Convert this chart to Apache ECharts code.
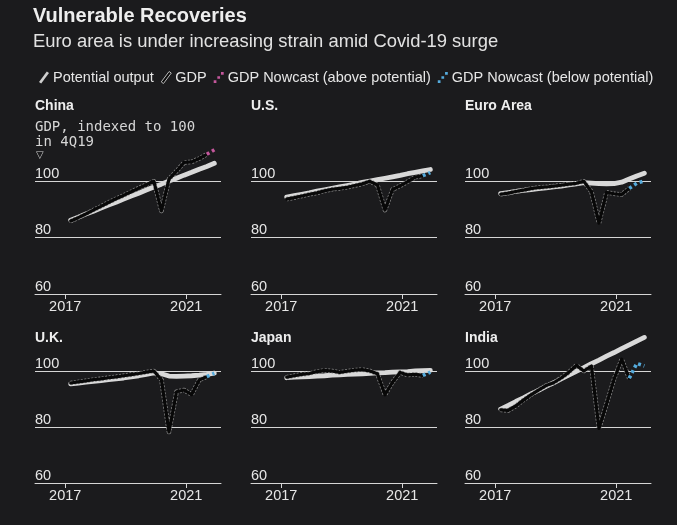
<!DOCTYPE html>
<html><head><meta charset="utf-8">
<script src="https://cdn.jsdelivr.net/npm/echarts@6.0.0/dist/echarts.min.js"></script>
<style>html,body{margin:0;padding:0;background:#1b1b1d}#c{width:677px;height:525px}</style>
</head><body><div id="c"></div><script>
const quarters = ['2017Q1','2017Q2','2017Q3','2017Q4','2018Q1','2018Q2','2018Q3','2018Q4','2019Q1','2019Q2','2019Q3','2019Q4','2020Q1','2020Q2','2020Q3','2020Q4','2021Q1','2021Q2','2021Q3','2021Q4'];
const xTickYears = [2017, 2021];
const yTicks = [60, 80, 100];

const chinaPotential = [86.2,87.3,88.4,89.4,90.5,91.6,92.6,93.7,94.8,95.8,96.9,98.0,99.0,100.1,101.1,102.2,103.2,104.3,105.3,106.4];
const chinaGDP       = [85.9,87.1,88.4,89.8,91.1,92.5,93.8,95.0,96.3,97.6,98.8,100.0,89.5,100.8,103.6,106.7,106.9,108.1,109.6,null];
const chinaNowcast   = [null,null,null,null,null,null,null,null,null,null,null,null,null,null,null,null,null,null,109.6,111.2];

const usPotential = [94.4,94.9,95.4,95.9,96.5,97.0,97.5,98.0,98.5,99.0,99.6,100.1,100.6,101.1,101.6,102.1,102.7,103.2,103.7,104.2];
const usGDP       = [93.7,94.2,94.8,95.4,95.9,96.6,97.2,97.5,97.9,98.5,99.1,100.0,98.7,89.8,97.1,98.4,99.9,101.5,102.0,null];
const usNowcast   = [null,null,null,null,null,null,null,null,null,null,null,null,null,null,null,null,null,null,102.0,103.1];

const euroPotential = [95.6,96.0,96.4,96.8,97.1,97.4,97.7,98.0,98.3,98.7,99.1,99.5,99.4,99.2,99.1,99.2,99.7,100.8,101.9,102.9];
const euroGDP       = [95.4,95.8,96.4,96.9,97.4,97.8,98.0,98.3,98.6,99.0,99.3,100.0,96.3,85.2,96.1,95.6,95.3,97.5,null,null];
const euroNowcast   = [null,null,null,null,null,null,null,null,null,null,null,null,null,null,null,null,null,97.5,99.3,100.2];

const ukPotential = [95.4,95.7,96.0,96.3,96.6,96.9,97.2,97.5,97.9,98.3,98.8,99.3,99.0,98.2,98.1,98.2,98.3,98.5,98.8,99.2];
const ukGDP       = [95.7,96.1,96.5,96.9,97.2,97.6,97.9,98.3,98.7,99.1,99.6,100.0,96.9,78.2,92.6,93.2,91.6,96.8,98.0,null];
const ukNowcast   = [null,null,null,null,null,null,null,null,null,null,null,null,null,null,null,null,null,null,98.0,99.2];

const japanPotential = [97.6,97.8,97.9,98.0,98.2,98.3,98.5,98.6,98.8,98.9,99.0,99.2,99.3,99.4,99.6,99.7,99.8,100.0,100.1,100.2];
const japanGDP       = [97.8,98.3,98.8,99.1,99.8,100.2,100.0,99.5,99.9,100.3,100.5,100.0,99.0,91.5,96.0,99.5,98.6,98.8,98.4,null];
const japanNowcast   = [null,null,null,null,null,null,null,null,null,null,null,null,null,null,null,null,null,null,98.4,99.6];

const indiaPotential = [86.4,87.7,89.1,90.4,91.8,93.1,94.5,95.8,97.2,98.5,99.9,101.2,102.6,103.9,105.3,106.6,108.0,109.3,110.7,112.0];
const indiaGDP       = [86.1,85.9,87.5,89.6,91.5,93.2,94.8,95.8,97.5,99.5,102.0,100.0,101.8,79.5,88.2,97.1,104.2,97.4,null,null];
const indiaNowcast   = [null,null,null,null,null,null,null,null,null,null,null,null,null,null,null,null,null,97.4,102.7,101.8];

const NAME_POT = 'Potential output', NAME_GDP = 'GDP',
      NAME_ABOVE = 'GDP Nowcast (above potential)', NAME_BELOW = 'GDP Nowcast (below potential)';
const panelNames = ['China', 'U.S.', 'Euro Area', 'U.K.', 'Japan', 'India'];

const panels = [
  {pot: chinaPotential, gdp: chinaGDP, now: chinaNowcast, nowName: NAME_ABOVE},
  {pot: usPotential, gdp: usGDP, now: usNowcast, nowName: NAME_BELOW},
  {pot: euroPotential, gdp: euroGDP, now: euroNowcast, nowName: NAME_BELOW},
  {pot: ukPotential, gdp: ukGDP, now: ukNowcast, nowName: NAME_BELOW},
  {pot: japanPotential, gdp: japanGDP, now: japanNowcast, nowName: NAME_BELOW},
  {pot: indiaPotential, gdp: indiaGDP, now: indiaNowcast, nowName: NAME_BELOW}
];

const C_BG = '#1b1b1d', C_TEXT = '#e6e6e6', C_GRID = '#d6d6d6', C_POT = '#d9d9d9',
      C_GDP = '#080808', C_ABOVE = '#c4579c', C_BELOW = '#55abdc';
const FONT = '"Liberation Sans", Arial, sans-serif';
const colLefts = [35, 251, 465], rowTops = [125, 315], rowHeights = [169, 168];

const qx = quarters.map(q => +q.slice(0, 4) + (+q.slice(5) - 1) / 4 + 0.18);
const pairs = arr => arr.map((v, k) => [qx[k], v]).filter(p => p[1] != null);

const grid = [], xAxis = [], yAxis = [], series = [], graphic = [];
panels.forEach((p, i) => {
  const col = i % 3, row = Math.floor(i / 3);
  grid.push({left: colLefts[col], top: rowTops[row], width: 186, height: rowHeights[row], containLabel: false});
  xAxis.push({
    type: 'value', gridIndex: i, min: 2016, max: 2022.15,
    axisLine: {show: true, lineStyle: {color: C_GRID, width: 1}},
    axisTick: {show: true, customValues: xTickYears, length: 5, lineStyle: {color: C_GRID}},
    axisLabel: {customValues: xTickYears, color: C_TEXT, fontSize: 14.5, fontFamily: FONT, margin: 5,
                formatter: v => String(Math.round(v))},
    splitLine: {show: false}
  });
  yAxis.push({
    type: 'value', gridIndex: i, min: 60, max: 120, interval: 20,
    axisLine: {show: false}, axisTick: {show: false},
    axisLabel: {customValues: yTicks, inside: true, margin: 0, verticalAlign: 'bottom', color: C_TEXT,
                fontSize: 14.5, fontFamily: FONT},
    splitLine: {show: true, showMaxLine: false, lineStyle: {color: C_GRID, width: 1}}
  });
  const base = {type: 'line', xAxisIndex: i, yAxisIndex: i, symbol: 'none', showSymbol: false, silent: true, animation: false};
  series.push(Object.assign({}, base, {name: NAME_POT, data: pairs(p.pot), color: C_POT, z: 2,
    lineStyle: {color: C_POT, width: 4.8, cap: 'round', join: 'round'}}));
  series.push(Object.assign({}, base, {name: 'gdp-outline', data: pairs(p.gdp), color: '#8c8c8c', z: 3,
    lineStyle: {color: '#8c8c8c', width: 4.6, type: [2, 1.5], join: 'round'}}));
  series.push(Object.assign({}, base, {name: NAME_GDP, data: pairs(p.gdp), color: C_GDP, z: 4,
    lineStyle: {color: C_GDP, width: 3.2, cap: 'round', join: 'round'}}));
  const nc = p.nowName === NAME_ABOVE ? C_ABOVE : C_BELOW;
  series.push(Object.assign({}, base, {name: p.nowName, data: pairs(p.now), color: nc, z: 5,
    lineStyle: {color: nc, width: 3.6, type: [3, 3], cap: 'butt'}}));
  graphic.push({type: 'text', x: colLefts[col], y: row === 0 ? 106 : 338,
    style: {text: panelNames[i], fill: '#eeeeee', font: 'bold 14px ' + FONT, textVerticalAlign: 'middle'}});
});

graphic.push({type: 'text', x: 33, y: 16, style: {text: 'Vulnerable Recoveries', fill: '#eeeeee', font: 'bold 20px ' + FONT, textVerticalAlign: 'middle'}});
graphic.push({type: 'text', x: 33, y: 42, style: {text: 'Euro area is under increasing strain amid Covid-19 surge', fill: '#e2e2e2', font: '18.4px ' + FONT, textVerticalAlign: 'middle'}});
graphic.push({type: 'text', x: 35, y: 127, style: {text: 'GDP, indexed to 100', fill: '#d6d6d6', font: '14px "DejaVu Sans Mono", monospace', textVerticalAlign: 'middle'}});
graphic.push({type: 'text', x: 35, y: 142, style: {text: 'in 4Q19', fill: '#d6d6d6', font: '14px "DejaVu Sans Mono", monospace', textVerticalAlign: 'middle'}});
graphic.push({type: 'text', x: 36, y: 155, style: {text: '▽', fill: '#cfcfcf', font: '10px "DejaVu Sans", sans-serif', textVerticalAlign: 'middle'}});

const slash = 'path://M0,12 L9,0 L11.5,1.8 L2.5,13.8 Z';
const dots = 'path://M0,11h3v3h-3z M4,6.5h3v3h-3z M8,2h3v3h-3z';

const option = {
  backgroundColor: C_BG,
  animation: false,
  grid, xAxis, yAxis, series, graphic,
  legend: {
    left: 34, top: 65, itemWidth: 10, itemHeight: 13, itemGap: 7, selectedMode: false,
    textStyle: {color: C_TEXT, fontSize: 14.5, fontFamily: FONT, padding: [0, 0, 0, -1]},
    data: [
      {name: NAME_POT, icon: slash, itemStyle: {color: '#cfcfcf'}},
      {name: NAME_GDP, icon: slash, itemStyle: {color: '#0a0a0a', borderColor: '#bbbbbb', borderWidth: 1}},
      {name: NAME_ABOVE, icon: dots, itemStyle: {color: C_ABOVE}},
      {name: NAME_BELOW, icon: dots, itemStyle: {color: C_BELOW}}
    ]
  }
};
const chart = echarts.init(document.getElementById('c'));
chart.setOption(option);
</script></body></html>
